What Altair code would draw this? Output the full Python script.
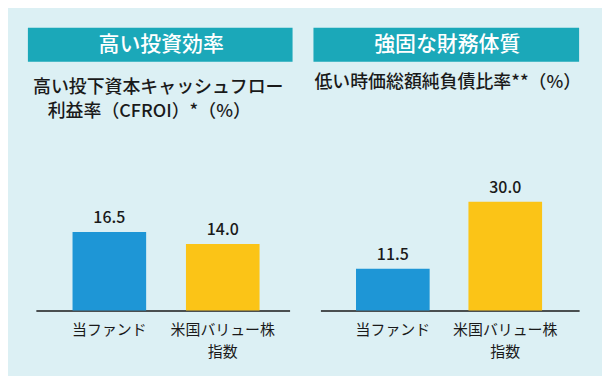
import altair as alt
import pandas as pd

# ---- data -------------------------------------------------------------
categories = ["当ファンド", "米国バリュー株\n指数"]
cfroi_values = [16.5, 14.0]          # 高い投下資本キャッシュフロー利益率 (%)
net_debt_values = [11.5, 30.0]       # 低い時価総額純負債比率 (%)

header_left = "高い投資効率"
header_right = "強固な財務体質"
subtitle_left = ["高い投下資本キャッシュフロー", "利益率（CFROI）*（%）"]
subtitle_right = ["低い時価総額純負債比率**（%）"]

# ---- style ------------------------------------------------------------
BG = "#dcf0f4"
TEAL = "#1ba8b9"
BLUE = "#1e96d6"
YELLOW = "#fbc417"
INK = "#1a1a1a"
FONT = "Noto Sans CJK JP"
PLOT_H = 176


def panel(values, ymax, width, p_inner, p_outer, align, header, hx, hx2, sub_lines, sub_pos):
    df = pd.DataFrame({"cat": categories, "value": values})
    base = alt.Chart(df)
    x = alt.X(
        "cat:N",
        sort=categories,
        scale=alt.Scale(paddingInner=p_inner, paddingOuter=p_outer, align=align),
        axis=alt.Axis(
            title=None,
            labelExpr="split(datum.label, '\\n')",
            labelAngle=0,
            ticks=False,
            grid=False,
            domainColor=INK,
            domainWidth=1.5,
            labelFont=FONT,
            labelFontSize=15,
            labelColor=INK,
            labelPadding=12,
            labelLineHeight=22,
        ),
    )
    y = alt.Y("value:Q", scale=alt.Scale(domain=[0, ymax], nice=False), axis=None)
    bars = base.mark_bar().encode(
        x=x,
        y=y,
        color=alt.Color("cat:N", scale=alt.Scale(domain=categories, range=[BLUE, YELLOW]), legend=None),
    )
    vals = base.mark_text(
        baseline="alphabetic", dy=-9, fontSize=16, font=FONT, fontWeight=500, color=INK
    ).encode(x=x, y=y, text=alt.Text("value:Q", format=".1f"))

    hdf = pd.DataFrame({"t": [header]})
    hrect = alt.Chart(hdf).mark_rect(color=TEAL).encode(
        x=alt.value(hx), x2=alt.value(hx2), y=alt.value(-108), y2=alt.value(-74)
    )
    htext = alt.Chart(hdf).mark_text(
        font=FONT, fontSize=21, fontWeight=500, color="white", baseline="middle", align="center"
    ).encode(x=alt.value((hx + hx2) / 2 + 1), y=alt.value(-91), text="t:N")

    layers = [hrect, htext]
    for line, (sx, sy) in zip(sub_lines, sub_pos):
        sdf = pd.DataFrame({"t": [line]})
        layers.append(
            alt.Chart(sdf).mark_text(
                font=FONT, fontSize=18, fontWeight=500, color=INK, baseline="middle", align="center"
            ).encode(x=alt.value(sx), y=alt.value(sy), text="t:N")
        )
    return alt.layer(bars, vals, *layers).properties(width=width, height=PLOT_H)


left = panel(cfroi_values, 36.9, 255, 0.351, 0.294, 0.55, header_left, -8, 258,
             subtitle_left, [(123, -48), (114, -23)])
right = panel(net_debt_values, 48.4, 260, 0.345, 0.323, 0.49, header_right, -7, 260,
              subtitle_right, [(128, -53)])

chart = (
    alt.hconcat(left, right, spacing=31, bounds="flush")
    .configure(background=BG, padding={"left": 20, "top": 19, "right": 20, "bottom": 16})
    .configure_view(stroke=None)
)

chart.save("out.html", embed_options={"renderer": "svg", "actions": False})
